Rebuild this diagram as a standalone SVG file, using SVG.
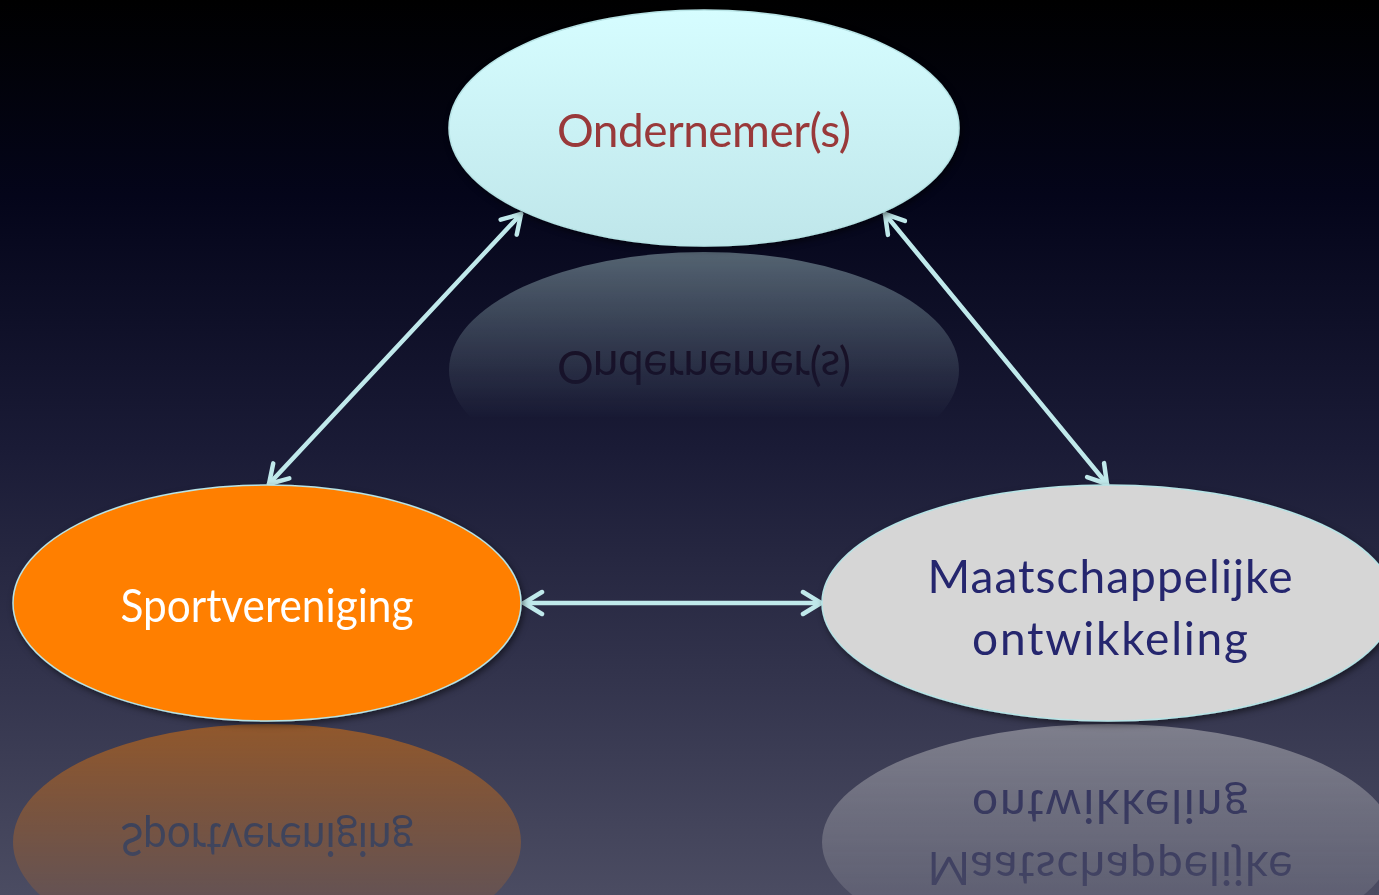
<svg xmlns="http://www.w3.org/2000/svg" width="1379" height="895" viewBox="0 0 1379 895">
<defs>
<style>
.lbl{font-family:"Lato","Open Sans","DejaVu Sans",sans-serif;font-size:46px;text-anchor:middle}
.conn{stroke:#c0e9eb;stroke-width:4.5;fill:none;stroke-linecap:round}
.edge{stroke:#b8e4e6;stroke-width:1.5}
</style>
<linearGradient id="bg" x1="0" y1="0" x2="0" y2="1">
<stop offset="0" stop-color="#000000"/>
<stop offset="0.22" stop-color="#04051a"/>
<stop offset="0.5" stop-color="#1a1b36"/>
<stop offset="0.75" stop-color="#32334c"/>
<stop offset="1" stop-color="#4b4c62"/>
</linearGradient>
<linearGradient id="topFill" x1="0" y1="0" x2="0" y2="1">
<stop offset="0" stop-color="#d6fdff"/>
<stop offset="1" stop-color="#bfe6ea"/>
</linearGradient>
<linearGradient id="fadeTop" gradientUnits="userSpaceOnUse" x1="0" y1="250" x2="0" y2="420">
<stop offset="0" stop-color="#fff" stop-opacity="0.4"/>
<stop offset="1" stop-color="#fff" stop-opacity="0"/>
</linearGradient>
<linearGradient id="fadeBot" gradientUnits="userSpaceOnUse" x1="0" y1="724" x2="0" y2="895">
<stop offset="0" stop-color="#fff" stop-opacity="0.45"/>
<stop offset="1" stop-color="#fff" stop-opacity="0.15"/>
</linearGradient>
<mask id="mTop" maskUnits="userSpaceOnUse" x="0" y="0" width="1379" height="895">
<rect x="0" y="249" width="1379" height="250" fill="url(#fadeTop)"/>
</mask>
<mask id="mBot" maskUnits="userSpaceOnUse" x="0" y="0" width="1379" height="895">
<rect x="0" y="723" width="1379" height="172" fill="url(#fadeBot)"/>
</mask>
<filter id="sh" x="-10%" y="-10%" width="120%" height="125%">
<feDropShadow dx="2" dy="3" stdDeviation="3" flood-color="#000" flood-opacity="0.5"/>
</filter>
<marker id="ah" viewBox="0 0 26 28" refX="23" refY="14" markerWidth="26" markerHeight="28" markerUnits="userSpaceOnUse" orient="auto-start-reverse">
<path d="M5,3 L23,14 L5,25" fill="none" stroke="#c0e9eb" stroke-width="4.5" stroke-linecap="round" stroke-linejoin="round"/>
</marker>
</defs>
<rect width="1379" height="895" fill="url(#bg)"/>

<g id="reflections">
<g mask="url(#mTop)">
<ellipse cx="704" cy="370" rx="255" ry="118" fill="#c8eef0"/>
<text class="lbl" x="704" y="147" fill="#3a0a14" textLength="294" transform="translate(0,498) scale(1,-1)">Ondernemer(s)</text>
</g>
<g mask="url(#mBot)">
<ellipse cx="267" cy="842" rx="254" ry="118" fill="#ff7f00"/>
<text class="lbl" x="267" y="622" fill="#30405a" textLength="293" lengthAdjust="spacingAndGlyphs" transform="translate(0,1445) scale(1,-1)">Sportvereniging</text>
<ellipse cx="1108" cy="842" rx="286" ry="118" fill="#d5d5d5"/>
<text class="lbl" fill="#25266e" transform="translate(0,1445) scale(1,-1)"><tspan x="1110" y="593" textLength="365">Maatschappelijke</tspan><tspan x="1110" y="655" textLength="276">ontwikkeling</tspan></text>
</g>
</g>

<g id="connectors">
<line class="conn" x1="521" y1="214" x2="269" y2="484" marker-start="url(#ah)" marker-end="url(#ah)"/>
<line class="conn" x1="885" y1="214" x2="1107" y2="484" marker-start="url(#ah)" marker-end="url(#ah)"/>
<line class="conn" x1="524" y1="603" x2="821" y2="603" marker-start="url(#ah)" marker-end="url(#ah)"/>
</g>

<g id="node-ondernemers">
<ellipse class="edge" cx="704" cy="128" rx="255" ry="118" fill="url(#topFill)" filter="url(#sh)"/>
<text class="lbl" x="704" y="147" fill="#99393a" textLength="294">Ondernemer(s)</text>
</g>

<g id="node-sportvereniging">
<ellipse class="edge" cx="267" cy="603" rx="254" ry="118" fill="#ff7f00" filter="url(#sh)"/>
<text class="lbl" x="267" y="622" fill="#ffffff" textLength="293" lengthAdjust="spacingAndGlyphs">Sportvereniging</text>
</g>

<g id="node-maatschappelijke">
<ellipse class="edge" cx="1108" cy="603" rx="286" ry="118" fill="#d6d6d6" filter="url(#sh)"/>
<text class="lbl" fill="#25266e"><tspan x="1110" y="593" textLength="365">Maatschappelijke</tspan><tspan x="1110" y="655" textLength="276">ontwikkeling</tspan></text>
</g>
</svg>
